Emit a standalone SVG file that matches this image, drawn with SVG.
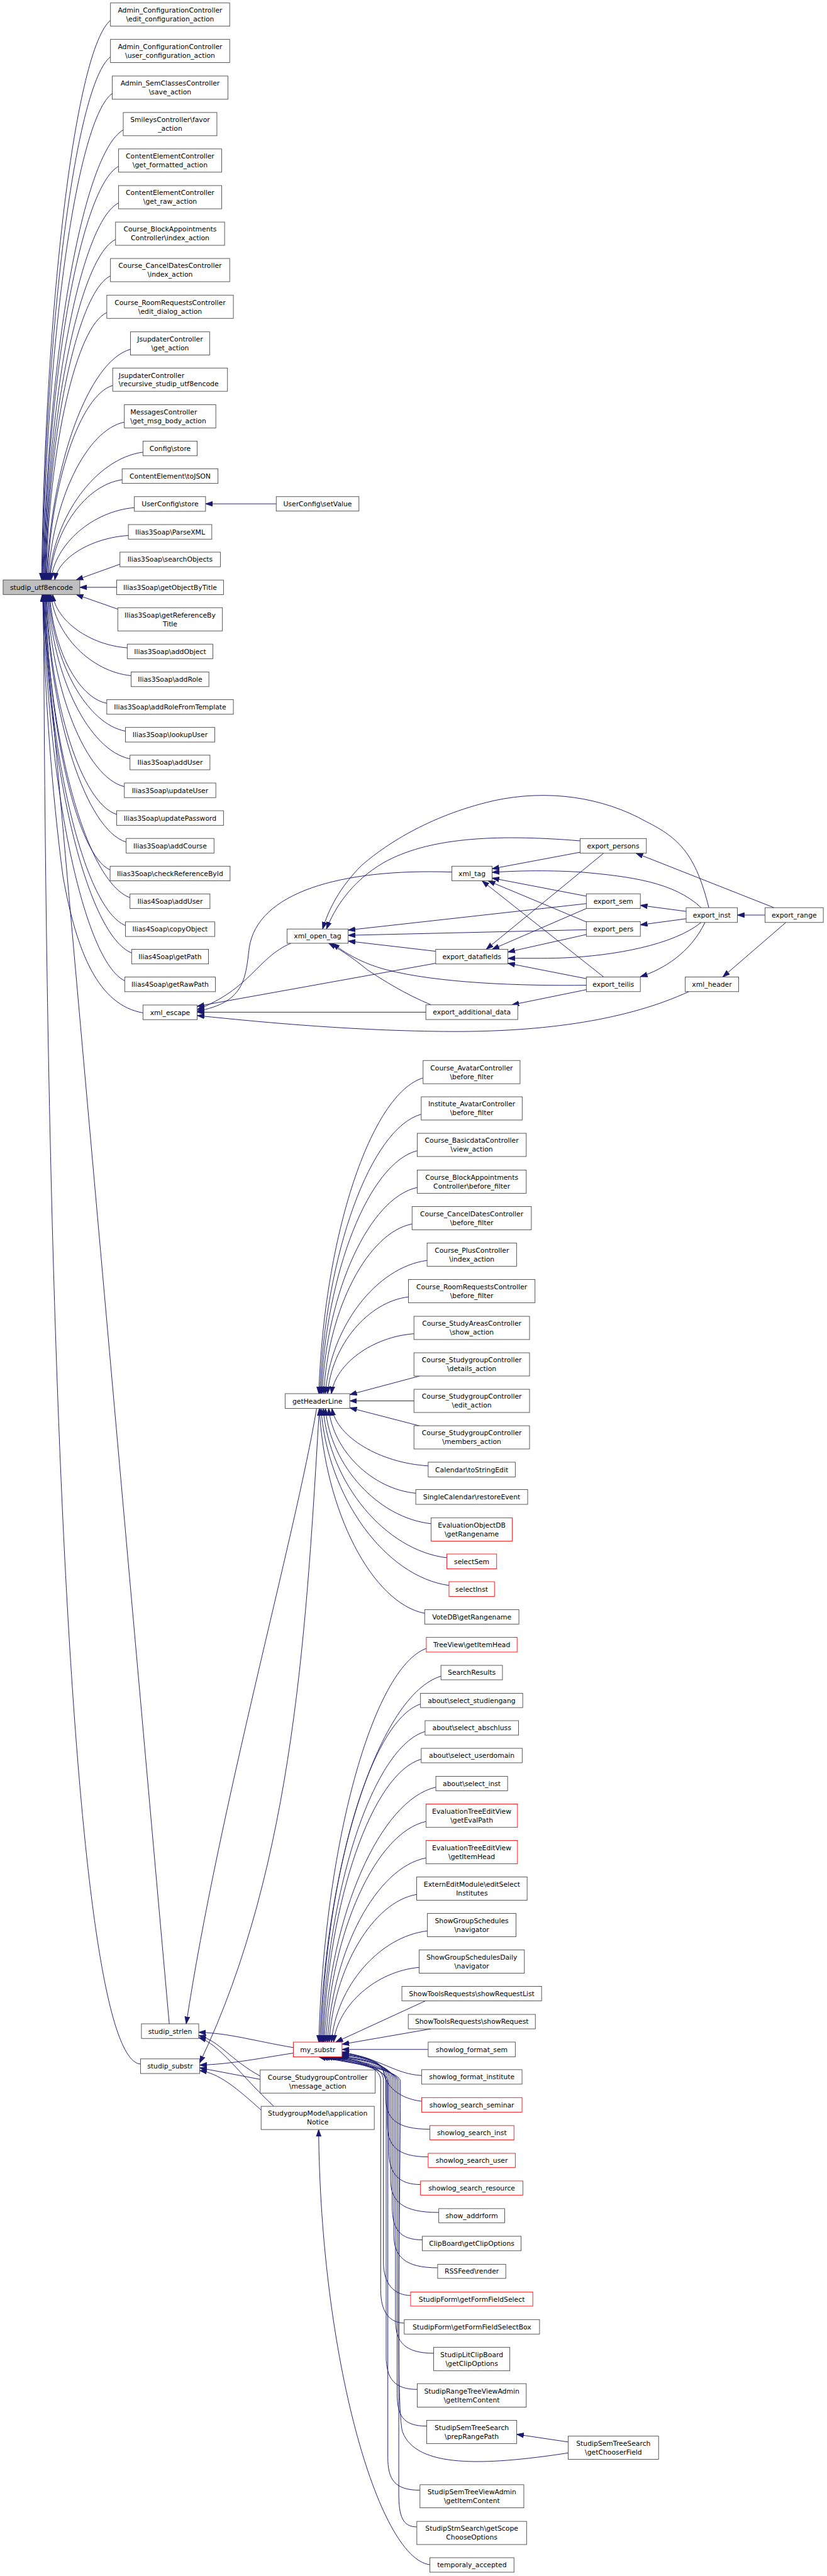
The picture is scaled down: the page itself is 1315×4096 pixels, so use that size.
<svg xmlns="http://www.w3.org/2000/svg" width="1315" height="4096" viewBox="0 0 1315 4096">
<style>
.node rect{fill:#fff;stroke:#404040;stroke-width:1}
.red rect{stroke:#ff0000}
.root rect{fill:#bfbfbf}
.node text{font-family:"DejaVu Sans",sans-serif;font-size:12.4px;fill:#000;text-anchor:middle}
.node text.l{text-anchor:start}
#edges path{fill:none;stroke:#191970;stroke-width:1.1;marker-end:url(#arr)}
</style>
<defs>
<marker id="arr" markerUnits="userSpaceOnUse" markerWidth="14" markerHeight="10" refX="13" refY="5" orient="auto" viewBox="0 0 14 10">
<path d="M0,0.5 L13,5 L0,9.5 z" fill="#191970" stroke="#191970" stroke-width="1"/>
</marker>
</defs>
<rect width="1315" height="4096" fill="#fff"/>
<g transform="scale(0.871)">
<g id="edges">
<!-- column 1 to root -->
<path d="M201.7,37.2 C138.8,88.3 82.3,547.9 76,1058.7"/>
<path d="M201.7,103.7 C139.4,151.5 83.2,581.2 77,1058.7"/>
<path d="M205,170.6 C141.5,215 84.4,614.7 78,1058.7"/>
<path d="M225,237.2 C152,278.3 86.3,648 79,1058.7"/>
<path d="M216.3,303.7 C148.2,341.5 86.8,681.2 80,1058.7"/>
<path d="M216.3,370.6 C148.7,405 87.8,714.7 81,1058.7"/>
<path d="M211,437.2 C146.5,468.3 88.5,748 82,1058.7"/>
<path d="M201.7,503.7 C142.4,531.5 88.9,781.2 83,1058.7"/>
<path d="M195,570.6 C139.5,595 89.6,814.7 84,1058.7"/>
<path d="M238.3,637.6 C161.7,658.7 92.7,848.2 85,1058.7"/>
<path d="M205.7,703.7 C146.1,721.5 92.5,881.2 86.5,1058.7"/>
<path d="M227,770.6 C157.5,785 95,914.7 88,1058.7"/>
<path d="M261,825.4 C175.3,837.1 98.1,942.1 89.5,1058.7"/>
<path d="M223,875.8 C157,885 97.6,967.3 91,1058.7"/>
<path d="M245.3,926.7 C169.2,933.3 100.6,992.7 93,1058.7"/>
<path d="M234.3,977.6 C167.2,981.7 106.7,1018.2 100,1058.7"/>
<path d="M219,1030 L139,1058.7"/>
<path d="M213,1072.2 L145.7,1072.2"/>
<path d="M215,1112 L139,1085.3"/>
<path d="M232.3,1182.6 C164.2,1177.7 102.8,1133.9 96,1085.3"/>
<path d="M239.3,1233.5 C166.2,1226.1 100.3,1159.4 93,1085.3"/>
<path d="M195,1283.9 C143,1274 96.2,1184.6 91,1085.3"/>
<path d="M229,1334.7 C159.3,1322.2 96.5,1210 89.5,1085.3"/>
<path d="M237.3,1385.3 C162.7,1370.3 95.5,1235.3 88,1085.3"/>
<path d="M227,1436.1 C156.8,1418.6 93.5,1260.7 86.5,1085.3"/>
<path d="M213,1486.7 C149,1466.6 91.4,1286 85,1085.3"/>
<path d="M230.3,1537.3 C157.2,1514.7 91.3,1311.3 84,1085.3"/>
<path d="M201,1588 C142,1562.9 88.9,1336.7 83,1085.3"/>
<path d="M237.3,1638.6 C159.7,1610.9 89.8,1362 82,1085.3"/>
<path d="M229,1689.6 C155,1659.4 88.4,1387.5 81,1085.3"/>
<path d="M240.3,1739.7 C160.2,1707 88,1412.5 80,1085.3"/>
<path d="M227.7,1790.4 C153.4,1755.1 86.4,1437.9 79,1085.3"/>
<path d="M261,1849 C180,1835 140,1740 115,1600 C95,1450 80,1250 78,1085.3"/>
<path d="M309,3694.6 L77,1085.3"/>
<path d="M256.5,3768 C140,3760 85,2600 79.5,1085.3"/>
<!-- UserConfig -->
<path d="M504.3,919.8 L375.3,919.8"/>
<!-- export cluster -->
<path d="M531,1722 C470,1748 458,1805 360,1843"/>
<path d="M825,1592 C620,1585 470,1630 455,1730 C448,1790 445,1830 360,1846"/>
<path d="M795.4,1758.5 L360,1837"/>
<path d="M777.4,1847.8 L360,1847.8"/>
<path d="M1258,1810 C1150,1860 1000,1885 810,1883 C620,1881 450,1863 360,1854"/>
<path d="M1059,1535 C900,1522 780,1530 700,1575 C640,1610 610,1660 596,1696"/>
<path d="M1294,1657 C1270,1560 1240,1530 1180,1500 C1100,1455 1000,1440 900,1462 C780,1490 700,1545 660,1580 C620,1620 600,1660 589,1696"/>
<path d="M1070.4,1649.6 L635.6,1698"/>
<path d="M1070.4,1697.3 L635.6,1707.5"/>
<path d="M795.4,1736.6 L635.6,1718"/>
<path d="M1070.4,1798.6 C950,1800 800,1795 704,1770 C660,1758 630,1740 607,1722"/>
<path d="M787,1834.4 C740,1815 700,1790 670,1770 C640,1745 615,1730 600,1722"/>
<path d="M1059,1555.8 L898.4,1586"/>
<path d="M1070.4,1636 L898.4,1603"/>
<path d="M1070.4,1683 L891,1608"/>
<path d="M1102,1783.5 L880,1608"/>
<path d="M1280,1657 C1230,1610 1150,1600 1060,1592 C990,1588 940,1590 898.4,1592.5"/>
<path d="M1102,1557.6 L887.6,1733"/>
<path d="M1070.4,1658.5 L898.4,1733"/>
<path d="M1070.4,1706 L927.2,1738"/>
<path d="M1280,1684 C1230,1725 1120,1745 1028,1748.7 C990,1750 960,1749 927.2,1749.6"/>
<path d="M1070.4,1786.6 L927.2,1758.5"/>
<path d="M1070.4,1806.7 L934.4,1834.4"/>
<path d="M1252.6,1663.8 L1169,1652.7"/>
<path d="M1252.6,1677.2 L1169,1688.4"/>
<path d="M1287,1684 C1260,1740 1210,1770 1169,1783"/>
<path d="M1413,1657 L1161,1557.6"/>
<path d="M1396.6,1670.5 L1346.2,1670.5"/>
<path d="M1434.7,1684 L1319.5,1783.5"/>
<!-- getHeaderLine callers -->
<path d="M772.4,1967.8 C677.2,1996.6 591.5,2256 582,2544.2"/>
<path d="M769,2034.1 C676.5,2059.6 593.3,2289.2 584,2544.2"/>
<path d="M761.7,2100.7 C673.9,2122.9 594.8,2322.5 586,2544.2"/>
<path d="M761.7,2167.8 C674.9,2186.6 596.7,2356 588,2544.2"/>
<path d="M752.3,2234.4 C671.7,2249.9 599.1,2389.3 591,2544.2"/>
<path d="M779.7,2301 C686.9,2313.2 603.3,2422.6 594,2544.2"/>
<path d="M745.7,2367.6 C671.9,2376.4 605.4,2455.9 598,2544.2"/>
<path d="M755.7,2434.8 C680.4,2440.3 612.5,2489.5 605,2544.2"/>
<path d="M766,2512 L638.5,2546"/>
<path d="M755.7,2557.4 L638.5,2557.4"/>
<path d="M766,2603 L638.5,2570"/>
<path d="M781.7,2676 C693.9,2670.8 614.8,2623.6 606,2571.2"/>
<path d="M759,2726 C679.5,2718.3 608,2648.6 600,2571.2"/>
<path d="M787,2781.6 C690.5,2771.1 603.7,2676.4 594,2571.2"/>
<path d="M815.7,2843.8 C702.9,2830.2 601.3,2707.5 590,2571.2"/>
<path d="M819.7,2894.3 C702.9,2878.1 597.7,2732.8 586,2571.2"/>
<path d="M775.3,2945.2 C679.2,2926.5 592.6,2758.2 583,2571.2"/>
<!-- getHeaderLine to strlen/substr -->
<path d="M578,2571.2 C540,2800 400,3300 340,3694.6"/>
<path d="M583,2571.2 C560,2950 540,3400 364.5,3766"/>
<!-- rank2 to strlen/substr -->
<path d="M535.6,3738 C460,3725 420,3712 362.8,3710"/>
<path d="M535.6,3748 C460,3760 420,3768 364.5,3770"/>
<path d="M475,3790 C420,3760 400,3725 362.8,3716"/>
<path d="M475,3796 L364.5,3775"/>
<path d="M500,3845.2 C440,3790 400,3730 362.8,3720"/>
<path d="M480,3855 C430,3810 400,3785 364.5,3780"/>
<!-- my_substr callers above -->
<path d="M778.3,3009.3 C680.2,3045.2 591.8,3368.7 582,3728"/>
<path d="M805,3060 C694.5,3093.4 595,3394 584,3728"/>
<path d="M767.7,3110.8 C676.9,3141.7 595.1,3419.4 586,3728"/>
<path d="M776,3161 C682,3189.4 597.4,3444.5 588,3728"/>
<path d="M769,3211.5 C679.5,3237.3 599,3469.8 590,3728"/>
<path d="M795.7,3262.6 C693.9,3285.9 602.2,3495.3 592,3728"/>
<path d="M777.7,3325.2 C686.4,3345.3 604.1,3526.6 595,3728"/>
<path d="M777.7,3391.8 C687.9,3408.6 607,3559.9 598,3728"/>
<path d="M760.7,3458.4 C680.9,3471.9 609,3593.2 601,3728"/>
<path d="M780.3,3525 C692.7,3535.2 613.8,3626.5 605,3728"/>
<path d="M765.3,3591.6 C687.2,3598.4 616.8,3659.8 609,3728"/>
<path d="M776.7,3652.7 L613,3728"/>
<path d="M786.7,3703.8 L624.4,3732"/>
<path d="M781.7,3741.4 L624.4,3741.4"/>
<!-- my_substr callers below -->
<path d="M769.7,3789 C720,3786 700,3760 624.4,3746"/>
<path d="M769.7,3836 C720,3830 702,3800 700,3782 C698,3762 660,3752 624.4,3748"/>
<path d="M784.7,3887 C722,3887 704,3867 704,3827 L704,3795 C704,3768 670,3753 624.4,3749.5"/>
<path d="M781.7,3937.5 C725,3937.5 707,3917 707,3877 L707,3795 C707,3768 670,3754 624.4,3751"/>
<path d="M767.7,3988 C728,3988 710,3968 710,3928 L710,3795 C710,3769 670,3755 624.4,3752.5"/>
<path d="M801,4039 C735,4039 713,4019 713,3979 L713,3796 C713,3770 670,3757 622,3755"/>
<path d="M771,4089 C730,4089 716,4069 716,4029 L716,3796 C716,3770 665,3758 618,3755"/>
<path d="M799,4140 C740,4140 719,4120 719,4080 L719,3797 C719,3771 660,3759 614,3755"/>
<path d="M749.7,4190.6 C720,4190 700,4170 700,4130 L700,3797 C700,3772 655,3760 610,3755"/>
<path d="M738,4241 C710,4240 695,4220 695,4180 L695,3798 C695,3772 650,3760 606,3755"/>
<path d="M791.7,4296 C740,4296 722,4276 722,4236 L722,3798 C722,3773 650,3761 602,3755"/>
<path d="M761.7,4362 C720,4362 705,4342 705,4302 L705,3799 C705,3774 645,3762 598,3755"/>
<path d="M779,4429 C735,4429 725,4409 725,4369 L725,3799 C725,3775 640,3762 594,3755"/>
<path d="M766.7,4546 C720,4546 708,4526 708,4486 L708,3800 C708,3775 635,3763 590,3755"/>
<path d="M761,4613 C735,4613 728,4593 728,4553 L728,3800 C728,3776 630,3763 586,3755"/>
<path d="M1037.3,4478 C880,4502 760,4505 735,4440 C722,4400 731,4000 731,3800 C731,3777 625,3764 582,3755"/>
<path d="M1037.3,4458 L943.3,4444"/>
<path d="M784.7,4682 C690,4670 585,4300 581.7,3887.5"/>
</g>
<!-- nodes -->
<g id="studip_utf8encode" class="node root"><rect x="5.7" y="1058.7" width="140" height="26.6"/><text x="75.7" y="1076.4">studip_utf8encode</text></g>
<g id="n1" class="node"><rect x="201.7" y="5.4" width="217.6" height="42.4"/><text x="310.5" y="23">Admin_ConfigurationController</text><text x="310.5" y="39">\edit_configuration_action</text></g>
<g id="n2" class="node"><rect x="201.7" y="71.9" width="217.6" height="42.4"/><text x="310.5" y="89.5">Admin_ConfigurationController</text><text x="310.5" y="105.5">\user_configuration_action</text></g>
<g id="n3" class="node"><rect x="205" y="138.8" width="211" height="42.4"/><text x="310.5" y="156.4">Admin_SemClassesController</text><text x="310.5" y="172.4">\save_action</text></g>
<g id="n4" class="node"><rect x="225" y="205.4" width="171" height="42.4"/><text x="310.5" y="223">SmileysController\favor</text><text x="310.5" y="239">_action</text></g>
<g id="n5" class="node"><rect x="216.3" y="271.9" width="188.4" height="42.4"/><text x="310.5" y="289.5">ContentElementController</text><text x="310.5" y="305.5">\get_formatted_action</text></g>
<g id="n6" class="node"><rect x="216.3" y="338.8" width="188.4" height="42.4"/><text x="310.5" y="356.4">ContentElementController</text><text x="310.5" y="372.4">\get_raw_action</text></g>
<g id="n7" class="node"><rect x="211" y="405.4" width="199" height="42.4"/><text x="310.5" y="423">Course_BlockAppointments</text><text x="310.5" y="439">Controller\index_action</text></g>
<g id="n8" class="node"><rect x="201.7" y="471.9" width="217.6" height="42.4"/><text x="310.5" y="489.5">Course_CancelDatesController</text><text x="310.5" y="505.5">\index_action</text></g>
<g id="n9" class="node"><rect x="195" y="538.8" width="231" height="42.4"/><text x="310.5" y="556.4">Course_RoomRequestsController</text><text x="310.5" y="572.4">\edit_dialog_action</text></g>
<g id="n10" class="node"><rect x="238.3" y="605.8" width="144.4" height="42.4"/><text x="310.5" y="623.4">JsupdaterController</text><text x="310.5" y="639.4">\get_action</text></g>
<g id="n11" class="node"><rect x="205.7" y="671.9" width="209.6" height="42.4"/><text class="l" x="216.7" y="689.5">JsupdaterController</text><text class="l" x="216.7" y="705.5">\recursive_studip_utf8encode</text></g>
<g id="n12" class="node"><rect x="227" y="738.8" width="167" height="42.4"/><text class="l" x="238" y="756.4">MessagesController</text><text class="l" x="238" y="772.4">\get_msg_body_action</text></g>
<g id="n13" class="node"><rect x="261" y="805.4" width="99" height="26.7"/><text x="310.5" y="823.2">Config\store</text></g>
<g id="n14" class="node"><rect x="223" y="855.8" width="175" height="26.7"/><text x="310.5" y="873.6">ContentElement\toJSON</text></g>
<g id="n15" class="node"><rect x="245.3" y="906.7" width="130" height="26.7"/><text x="310.5" y="924.5">UserConfig\store</text></g>
<g id="n16" class="node"><rect x="234.3" y="957.6" width="152.4" height="26.7"/><text x="310.5" y="975.4">Ilias3Soap\ParseXML</text></g>
<g id="n17" class="node"><rect x="219" y="1008" width="183.3" height="26.7"/><text x="310.5" y="1025.8">Ilias3Soap\searchObjects</text></g>
<g id="n18" class="node"><rect x="213" y="1058.9" width="195" height="26.7"/><text x="310.5" y="1076.7">Ilias3Soap\getObjectByTitle</text></g>
<g id="n19" class="node"><rect x="215" y="1109.4" width="191" height="42.4"/><text x="310.5" y="1127">Ilias3Soap\getReferenceBy</text><text x="310.5" y="1143">Title</text></g>
<g id="n20" class="node"><rect x="232.3" y="1175.9" width="156.4" height="26.7"/><text x="310.5" y="1193.7">Ilias3Soap\addObject</text></g>
<g id="n21" class="node"><rect x="239.3" y="1226.8" width="142" height="26.7"/><text x="310.5" y="1244.6">Ilias3Soap\addRole</text></g>
<g id="n22" class="node"><rect x="195" y="1277.2" width="231" height="26.7"/><text x="310.5" y="1295">Ilias3Soap\addRoleFromTemplate</text></g>
<g id="n23" class="node"><rect x="229" y="1328" width="163" height="26.7"/><text x="310.5" y="1345.8">Ilias3Soap\lookupUser</text></g>
<g id="n24" class="node"><rect x="237.3" y="1378.6" width="146" height="26.7"/><text x="310.5" y="1396.4">Ilias3Soap\addUser</text></g>
<g id="n25" class="node"><rect x="227" y="1429.4" width="167" height="26.7"/><text x="310.5" y="1447.2">Ilias3Soap\updateUser</text></g>
<g id="n26" class="node"><rect x="213" y="1480" width="195" height="26.7"/><text x="310.5" y="1497.8">Ilias3Soap\updatePassword</text></g>
<g id="n27" class="node"><rect x="230.3" y="1530.6" width="160.4" height="26.7"/><text x="310.5" y="1548.4">Ilias3Soap\addCourse</text></g>
<g id="n28" class="node"><rect x="201" y="1581.3" width="219" height="26.7"/><text x="310.5" y="1599.1">Ilias3Soap\checkReferenceById</text></g>
<g id="n29" class="node"><rect x="237.3" y="1631.9" width="146" height="26.7"/><text x="310.5" y="1649.7">Ilias4Soap\addUser</text></g>
<g id="n30" class="node"><rect x="229" y="1682.9" width="163" height="26.7"/><text x="310.5" y="1700.7">Ilias4Soap\copyObject</text></g>
<g id="n31" class="node"><rect x="240.3" y="1733" width="140.4" height="26.7"/><text x="310.5" y="1750.8">Ilias4Soap\getPath</text></g>
<g id="n32" class="node"><rect x="227.7" y="1783.7" width="165.6" height="26.7"/><text x="310.5" y="1801.5">Ilias4Soap\getRawPath</text></g>
<g id="xml_escape" class="node"><rect x="261" y="1834.7" width="99" height="26.7"/><text x="310.5" y="1852.5">xml_escape</text></g>
<g id="studip_strlen" class="node"><rect x="258.2" y="3694.6" width="104.6" height="26.7"/><text x="310.5" y="3712.4">studip_strlen</text></g>
<g id="studip_substr" class="node"><rect x="256.5" y="3758.6" width="108" height="26.7"/><text x="310.5" y="3776.4">studip_substr</text></g>
<g id="setValue" class="node"><rect x="504.3" y="906.7" width="151" height="26.3"/><text x="579.8" y="924.3">UserConfig\setValue</text></g>
<g id="xml_open_tag" class="node"><rect x="524" y="1696" width="111.6" height="26"/><text x="579.8" y="1713.4">xml_open_tag</text></g>
<g id="getHeaderLine" class="node"><rect x="520.5" y="2544.2" width="118" height="27"/><text x="579.5" y="2562.1">getHeaderLine</text></g>
<g id="my_substr" class="node red"><rect x="535.6" y="3728" width="88.8" height="27"/><text x="580" y="3745.9">my_substr</text></g>
<g id="message_action" class="node"><rect x="475" y="3778.7" width="210" height="42.4"/><text x="580" y="3796.3">Course_StudygroupController</text><text x="580" y="3812.3">\message_action</text></g>
<g id="applicationNotice" class="node"><rect x="476.7" y="3845.2" width="206.6" height="42.4"/><text x="580" y="3862.8">StudygroupModel\application</text><text x="580" y="3878.8">Notice</text></g>
<g id="xml_tag" class="node"><rect x="825" y="1581.3" width="73.4" height="26.7"/><text x="861.7" y="1599.1">xml_tag</text></g>
<g id="export_datafields" class="node"><rect x="795.4" y="1733" width="131.8" height="26.8"/><text x="861.3" y="1750.8">export_datafields</text></g>
<g id="export_additional_data" class="node"><rect x="777.4" y="1834.4" width="167.8" height="26.8"/><text x="861.3" y="1852.2">export_additional_data</text></g>
<g id="export_persons" class="node"><rect x="1059" y="1530.8" width="121" height="26.8"/><text x="1119.5" y="1548.6">export_persons</text></g>
<g id="export_sem" class="node"><rect x="1070.4" y="1631.7" width="98.6" height="26.8"/><text x="1119.7" y="1649.5">export_sem</text></g>
<g id="export_pers" class="node"><rect x="1070.4" y="1682.6" width="98.6" height="26.8"/><text x="1119.7" y="1700.4">export_pers</text></g>
<g id="export_teilis" class="node"><rect x="1070.4" y="1783.5" width="98.6" height="26.8"/><text x="1119.7" y="1801.3">export_teilis</text></g>
<g id="export_inst" class="node"><rect x="1252.6" y="1657" width="93.6" height="27"/><text x="1299.4" y="1674.9">export_inst</text></g>
<g id="xml_header" class="node"><rect x="1251" y="1783.5" width="97.4" height="26.8"/><text x="1299.7" y="1801.3">xml_header</text></g>
<g id="export_range" class="node"><rect x="1396.6" y="1657" width="106.4" height="27"/><text x="1449.8" y="1674.9">export_range</text></g>
<g id="c_avatar" class="node"><rect x="772.4" y="1936" width="177" height="42.4"/><text x="861" y="1953.6">Course_AvatarController</text><text x="861" y="1969.6">\before_filter</text></g>
<g id="i_avatar" class="node"><rect x="769" y="2002.3" width="184.3" height="42.4"/><text x="861.2" y="2019.9">Institute_AvatarController</text><text x="861.2" y="2035.9">\before_filter</text></g>
<g id="basicdata" class="node"><rect x="761.7" y="2068.9" width="199" height="42.4"/><text x="861.2" y="2086.5">Course_BasicdataController</text><text x="861.2" y="2102.5">\view_action</text></g>
<g id="blockappt_bf" class="node"><rect x="761.7" y="2136" width="199" height="42.4"/><text x="861.2" y="2153.6">Course_BlockAppointments</text><text x="861.2" y="2169.6">Controller\before_filter</text></g>
<g id="canceldates_bf" class="node"><rect x="752.3" y="2202.6" width="217.7" height="42.4"/><text x="861.2" y="2220.2">Course_CancelDatesController</text><text x="861.2" y="2236.2">\before_filter</text></g>
<g id="plus" class="node"><rect x="779.7" y="2269.2" width="163.3" height="42.4"/><text x="861.4" y="2286.8">Course_PlusController</text><text x="861.4" y="2302.8">\index_action</text></g>
<g id="roomreq_bf" class="node"><rect x="745.7" y="2335.8" width="231" height="42.4"/><text x="861.2" y="2353.4">Course_RoomRequestsController</text><text x="861.2" y="2369.4">\before_filter</text></g>
<g id="studyareas" class="node"><rect x="755.7" y="2403" width="211" height="42.4"/><text x="861.2" y="2420.6">Course_StudyAreasController</text><text x="861.2" y="2436.6">\show_action</text></g>
<g id="sg_details" class="node"><rect x="755.7" y="2469.6" width="211" height="42.4"/><text x="861.2" y="2487.2">Course_StudygroupController</text><text x="861.2" y="2503.2">\details_action</text></g>
<g id="sg_edit" class="node"><rect x="755.7" y="2536.2" width="211" height="42.4"/><text x="861.2" y="2553.8">Course_StudygroupController</text><text x="861.2" y="2569.8">\edit_action</text></g>
<g id="sg_members" class="node"><rect x="755.7" y="2602.8" width="211" height="42.4"/><text x="861.2" y="2620.4">Course_StudygroupController</text><text x="861.2" y="2636.4">\members_action</text></g>
<g id="cal_tse" class="node"><rect x="781.7" y="2669.3" width="159" height="27"/><text x="861.2" y="2687.2">Calendar\toStringEdit</text></g>
<g id="singlecal" class="node"><rect x="759" y="2719.3" width="204.3" height="27"/><text x="861.2" y="2737.2">SingleCalendar\restoreEvent</text></g>
<g id="evalobjdb" class="node red"><rect x="787" y="2771" width="148.3" height="42.4"/><text x="861.2" y="2788.6">EvaluationObjectDB</text><text x="861.2" y="2804.6">\getRangename</text></g>
<g id="selectSem" class="node red"><rect x="815.7" y="2837" width="91" height="27"/><text x="861.2" y="2854.9">selectSem</text></g>
<g id="selectInst" class="node red"><rect x="819.7" y="2887.5" width="83" height="27"/><text x="861.2" y="2905.4">selectInst</text></g>
<g id="votedb" class="node"><rect x="775.3" y="2938.6" width="172" height="26.4"/><text x="861.3" y="2956.2">VoteDB\getRangename</text></g>
<g id="treeview" class="node red"><rect x="778.3" y="2989" width="165.7" height="27"/><text x="861.2" y="3006.9">TreeView\getItemHead</text></g>
<g id="searchresults" class="node"><rect x="805" y="3040.2" width="112.3" height="26.4"/><text x="861.2" y="3057.8">SearchResults</text></g>
<g id="sel_studiengang" class="node"><rect x="767.7" y="3091.3" width="186.6" height="26"/><text x="861" y="3108.7">about\select_studiengang</text></g>
<g id="sel_abschluss" class="node"><rect x="776" y="3141.2" width="170.7" height="26.4"/><text x="861.3" y="3158.8">about\select_abschluss</text></g>
<g id="sel_userdomain" class="node"><rect x="769" y="3191.7" width="184.3" height="26.4"/><text x="861.2" y="3209.3">about\select_userdomain</text></g>
<g id="sel_inst" class="node"><rect x="795.7" y="3242.8" width="131" height="26.4"/><text x="861.2" y="3260.4">about\select_inst</text></g>
<g id="evalpath" class="node red"><rect x="777.7" y="3293.3" width="167" height="42.5"/><text x="861.2" y="3311">EvaluationTreeEditView</text><text x="861.2" y="3327">\getEvalPath</text></g>
<g id="evalitemhead" class="node red"><rect x="777.7" y="3359.9" width="167" height="42.5"/><text x="861.2" y="3377.6">EvaluationTreeEditView</text><text x="861.2" y="3393.6">\getItemHead</text></g>
<g id="externedit" class="node"><rect x="760.7" y="3426.5" width="201.6" height="42.5"/><text x="861.5" y="3444.2">ExternEditModule\editSelect</text><text x="861.5" y="3460.2">Institutes</text></g>
<g id="sgs_nav" class="node"><rect x="780.3" y="3493.1" width="161.7" height="42.5"/><text x="861.2" y="3510.8">ShowGroupSchedules</text><text x="861.2" y="3526.8">\navigator</text></g>
<g id="sgsd_nav" class="node"><rect x="765.3" y="3559.7" width="192" height="42.5"/><text x="861.3" y="3577.4">ShowGroupSchedulesDaily</text><text x="861.3" y="3593.4">\navigator</text></g>
<g id="str_list" class="node"><rect x="733.7" y="3626.3" width="255" height="26.4"/><text x="861.2" y="3643.9">ShowToolsRequests\showRequestList</text></g>
<g id="str_req" class="node"><rect x="745.3" y="3677.4" width="232" height="26.4"/><text x="861.3" y="3695">ShowToolsRequests\showRequest</text></g>
<g id="sl_fsem" class="node"><rect x="781.7" y="3727.9" width="159" height="27"/><text x="861.2" y="3745.8">showlog_format_sem</text></g>
<g id="sl_finst" class="node"><rect x="769.7" y="3778.3" width="183.3" height="26.4"/><text x="861.3" y="3795.9">showlog_format_institute</text></g>
<g id="sl_sseminar" class="node red"><rect x="769.7" y="3829.3" width="183.3" height="26.5"/><text x="861.3" y="3846.9">showlog_search_seminar</text></g>
<g id="sl_sinst" class="node red"><rect x="784.7" y="3880.4" width="153.6" height="26"/><text x="861.5" y="3897.8">showlog_search_inst</text></g>
<g id="sl_suser" class="node red"><rect x="781.7" y="3931" width="159" height="25.8"/><text x="861.2" y="3948.3">showlog_search_user</text></g>
<g id="sl_sres" class="node red"><rect x="767.7" y="3981.5" width="187" height="25.8"/><text x="861.2" y="3998.8">showlog_search_resource</text></g>
<g id="show_addrform" class="node"><rect x="801" y="4032" width="120.3" height="25.8"/><text x="861.2" y="4049.3">show_addrform</text></g>
<g id="clipboard" class="node"><rect x="771" y="4082.5" width="180.3" height="26.4"/><text x="861.2" y="4100.1">ClipBoard\getClipOptions</text></g>
<g id="rssfeed" class="node"><rect x="799" y="4133.6" width="124.3" height="25.8"/><text x="861.2" y="4150.9">RSSFeed\render</text></g>
<g id="ffselect" class="node red"><rect x="749.7" y="4184.1" width="223" height="25.9"/><text x="861.2" y="4201.5">StudipForm\getFormFieldSelect</text></g>
<g id="ffselectbox" class="node"><rect x="738" y="4234.6" width="247" height="26.4"/><text x="861.5" y="4252.2">StudipForm\getFormFieldSelectBox</text></g>
<g id="litclip" class="node"><rect x="791.7" y="4285.1" width="139" height="42.9"/><text x="861.2" y="4302.9">StudipLitClipBoard</text><text x="861.2" y="4318.9">\getClipOptions</text></g>
<g id="rangetree" class="node"><rect x="761.7" y="4351.5" width="199" height="42.9"/><text x="861.2" y="4369.3">StudipRangeTreeViewAdmin</text><text x="861.2" y="4385.3">\getItemContent</text></g>
<g id="preprange" class="node"><rect x="779" y="4418.5" width="164.3" height="42.3"/><text x="861.2" y="4436.1">StudipSemTreeSearch</text><text x="861.2" y="4452.1">\prepRangePath</text></g>
<g id="semtreeadmin" class="node"><rect x="766.7" y="4536" width="189.6" height="42.2"/><text x="861.5" y="4553.5">StudipSemTreeViewAdmin</text><text x="861.5" y="4569.5">\getItemContent</text></g>
<g id="stmsearch" class="node"><rect x="761" y="4602.9" width="200.3" height="42.3"/><text x="861.2" y="4620.5">StudipStmSearch\getScope</text><text x="861.2" y="4636.5">ChooseOptions</text></g>
<g id="temporaly" class="node"><rect x="784.7" y="4669.3" width="153.6" height="26.4"/><text x="861.5" y="4686.9">temporaly_accepted</text></g>
<g id="chooser" class="node"><rect x="1037.3" y="4447.3" width="165" height="42.4"/><text x="1119.8" y="4464.9">StudipSemTreeSearch</text><text x="1119.8" y="4480.9">\getChooserField</text></g>
</g>
</svg>
